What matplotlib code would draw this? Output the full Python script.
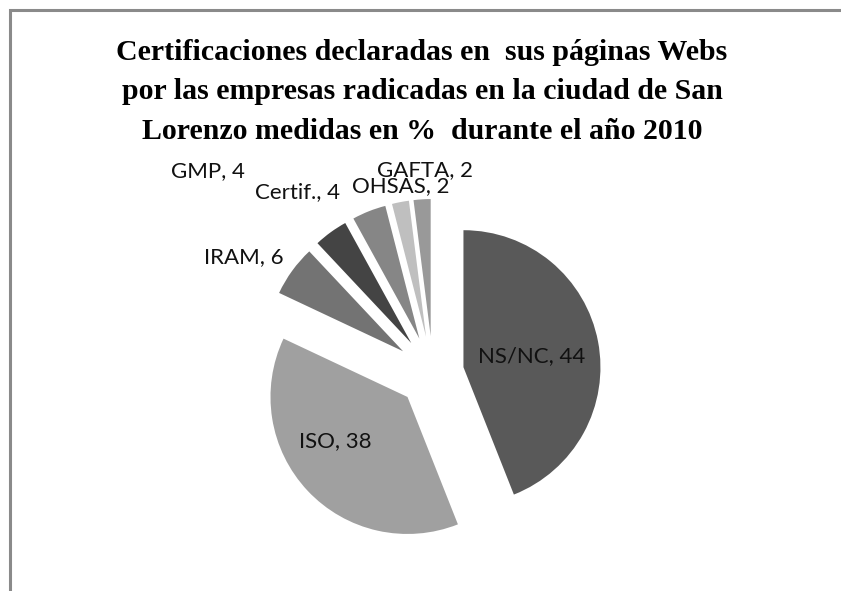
import matplotlib
matplotlib.use("Agg")
import matplotlib.pyplot as plt
from matplotlib.patches import Rectangle

# data
labels = ["NS/NC", "ISO", "IRAM", "GMP", "Certif.", "OHSAS", "GAFTA"]
values = [44, 38, 6, 4, 4, 2, 2]
colors = ["#595959", "#a0a0a0", "#737373", "#444444", "#868686", "#bfbfbf", "#999999"]

title = ("Certificaciones declaradas en  sus páginas Webs\n"
         "por las empresas radicadas en la ciudad de San\n"
         "Lorenzo medidas en %  durante el año 2010")

W, H = 841, 591
fig = plt.figure(figsize=(W / 100, H / 100), dpi=100)
ax = fig.add_axes([0, 0, 1, 1])

# chart frame (cut off at right/bottom like the screenshot)
fig.patches.append(Rectangle((9.5 / W, -0.1), 1.2, (H - 10) / H + 0.1,
                             transform=fig.transFigure, fill=False,
                             edgecolor="#8a8a8a", linewidth=2.2))

radius = 137
explode = [31, 35, 37, 37, 37, 37, 37]
ax.pie(values, colors=colors, startangle=90, counterclock=False,
       radius=radius, center=(433, H - 373), explode=explode,
       wedgeprops=dict(linewidth=0), frame=True)
ax.set_xlim(0, W)
ax.set_ylim(0, H)
ax.set_aspect("equal")
ax.axis("off")

# label positions (pixels from top-left)
label_xy = [(532, 356), (335, 441), (244, 257), (208, 171), (298, 192), (401, 186), (425, 170)]
for lab, v, (x, y) in zip(labels, values, label_xy):
    ax.text(x, H - y, f"{lab}, {v}", ha="center", va="center",
            fontsize=16, family="Lato", color="#111111")

fig.text(422 / W, 1 - 92 / H, title, ha="center", va="center",
         fontsize=21.5, fontweight="bold", family="Liberation Serif",
         linespacing=1.6)

fig.savefig("out.png", dpi=100)
